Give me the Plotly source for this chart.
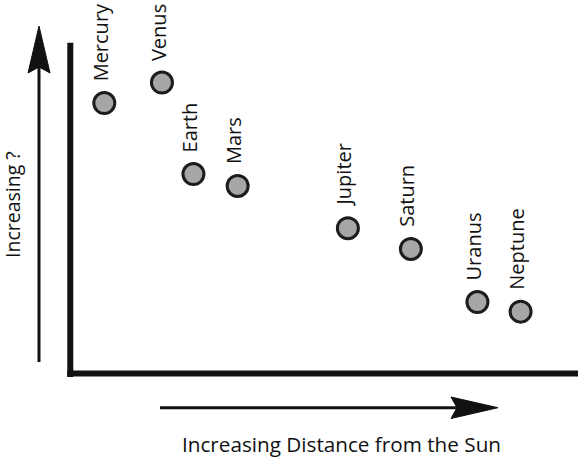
import plotly.graph_objects as go

# Data (relative units: 0-100 on each axis)
planets = ["Mercury", "Venus", "Earth", "Mars", "Jupiter", "Saturn", "Uranus", "Neptune"]
distance = [6.75, 18.1, 24.3, 33.0, 54.7, 67.1, 80.2, 88.7]
value = [82.1, 88.3, 60.6, 57.0, 44.2, 37.9, 21.8, 18.9]

x_title = "Increasing Distance from the Sun"
y_title = "Increasing ?"

W, H = 578, 457
ML, MR, MT, MB = 70, 0, 44, 83
PW, PH = W - ML - MR, H - MT - MB

def px(xp):
    return (xp - ML) / PW

def py(yp):
    return (H - MB - yp) / PH

FONT = "Open Sans"
INK = "#111111"

fig = go.Figure()
fig.add_trace(go.Scatter(
    x=distance, y=value, mode="markers",
    marker=dict(size=21, color="#a6a6a6", line=dict(color="#1c1c1c", width=3)),
    cliponaxis=False, hoverinfo="text", text=planets,
))

annotations = []
for name, xv, yv in zip(planets, distance, value):
    annotations.append(dict(
        x=xv, y=yv, xref="x", yref="y", text=name, showarrow=False,
        textangle=-90, yanchor="bottom", xanchor="center", yshift=20, xshift=-4,
        font=dict(family=FONT, size=20, color=INK),
    ))

annotations.append(dict(
    x=px(341.5), y=py(444), xref="paper", yref="paper", text=x_title,
    showarrow=False, xanchor="center", yanchor="middle",
    font=dict(family=FONT, size=20.7, color=INK),
))
annotations.append(dict(
    x=px(12), y=py(205), xref="paper", yref="paper", text=y_title,
    showarrow=False, xanchor="center", yanchor="middle", textangle=-90,
    font=dict(family=FONT, size=19.5, color=INK),
))

shapes = []
# L-shaped axes
shapes.append(dict(type="line", xref="paper", yref="paper",
                   x0=px(70.3), x1=px(70.3), y0=py(42.7), y1=py(377),
                   line=dict(color=INK, width=6)))
shapes.append(dict(type="line", xref="paper", yref="paper",
                   x0=px(67.3), x1=px(585), y0=py(373.5), y1=py(373.5),
                   line=dict(color=INK, width=6)))

# vertical arrow
shapes.append(dict(type="line", xref="paper", yref="paper",
                   x0=px(39), x1=px(39), y0=py(362), y1=py(66),
                   line=dict(color=INK, width=3)))
shapes.append(dict(type="path", xref="paper", yref="paper",
                   path=f"M {px(39)} {py(26)} L {px(50)} {py(73)} L {px(39)} {py(67)} L {px(28)} {py(73)} Z",
                   fillcolor=INK, line=dict(color=INK, width=1)))
# horizontal arrow
shapes.append(dict(type="line", xref="paper", yref="paper",
                   x0=px(160), x1=px(458), y0=py(407.7), y1=py(407.7),
                   line=dict(color=INK, width=3)))
shapes.append(dict(type="path", xref="paper", yref="paper",
                   path=f"M {px(498)} {py(407.7)} L {px(451)} {py(418.5)} L {px(457)} {py(407.7)} L {px(451)} {py(397)} Z",
                   fillcolor=INK, line=dict(color=INK, width=1)))

fig.update_layout(
    width=W, height=H,
    margin=dict(l=ML, r=MR, t=MT, b=MB, pad=0),
    paper_bgcolor="white", plot_bgcolor="white",
    showlegend=False,
    xaxis=dict(range=[0, 100], visible=False, fixedrange=True),
    yaxis=dict(range=[0, 100], visible=False, fixedrange=True),
    annotations=annotations, shapes=shapes,
)

fig.write_html("out.html", config={"displayModeBar": False},
               post_script="document.body.style.margin='0';document.body.style.overflow='hidden';")
